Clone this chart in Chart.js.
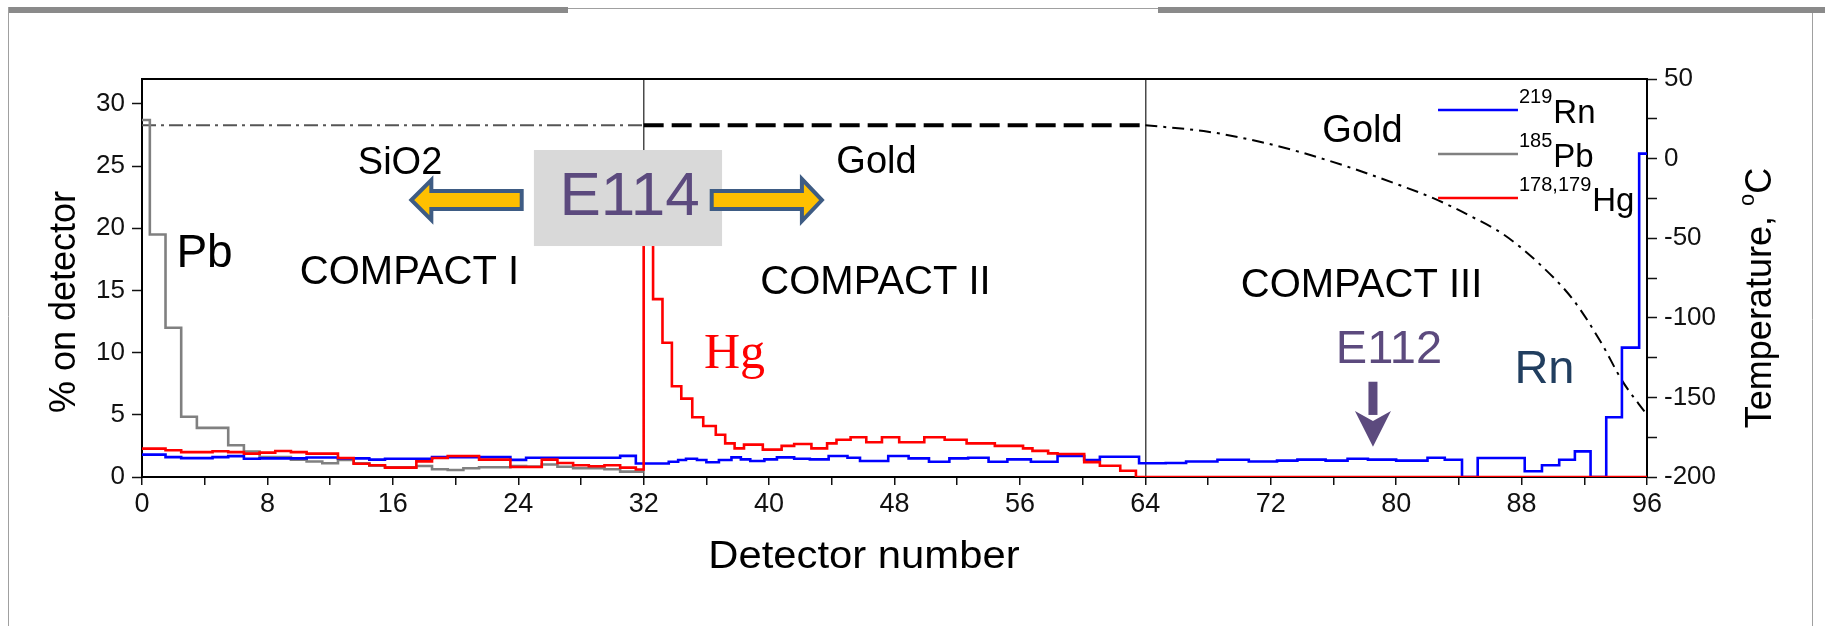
<!DOCTYPE html>
<html>
<head>
<meta charset="utf-8">
<script src="https://cdn.jsdelivr.net/npm/chart.js@4.4.0/dist/chart.umd.min.js"></script>
<style>
    html, body { margin: 0; padding: 0; background: #fff; }
    #wrap { position: relative; width: 1825px; height: 626px; }
</style>
</head>
<body>
<div id="wrap"><canvas id="chart"></canvas></div>
<script>
// Each histogram: detector number where a step starts, and % on detector for that step
var pbEdges = [0, 0.5, 1.5, 2.5, 3.5, 5.5, 6.5, 7.5, 9.5, 10.5, 11.5, 12.5, 13.5, 14.5, 15.5,
    17.5, 18.5, 19.5, 20.5, 21.5, 23.5, 24.5, 25.5, 26.5, 27.5, 29.5, 30.5];
var pbShare = [28.7, 19.5, 12.0, 4.85, 3.95, 2.55, 2.05, 1.6, 1.4, 1.25, 1.1, 1.37, 1.1, 0.9, 0.78,
    0.88, 0.62, 0.56, 0.7, 0.78, 0.88, 0.85, 1.0, 0.83, 0.7, 0.62, 0.43];

var rnEdges = [0, 1.5, 2.5, 4.5, 5.5, 6.5, 7.5, 10.5, 12.5, 14.5, 15.5, 18.5, 23.5, 24.5, 30.5, 31.5,
    33.6, 34.2, 34.7, 35.4, 36.0, 36.8, 37.6, 38.2, 38.8, 39.7, 40.5, 41.6, 42.6, 43.8, 45.0, 45.8,
    47.6, 48.9, 50.2, 51.5, 52.7, 54.0, 55.2, 56.7, 58.4, 60.1, 61.1, 63.6,
    64, 65.3, 66.6, 68.6, 70.6, 72.4, 73.7, 75.5, 76.9, 78.2, 80.0, 82.0, 83.1, 84.2, 85.2,
    88.2, 89.3, 90.4, 91.4, 92.4, 93.4, 94.4, 95.5];
var rnShare = [1.8, 1.6, 1.52, 1.6, 1.68, 1.47, 1.5, 1.57, 1.5, 1.4, 1.47, 1.6, 1.38, 1.55, 1.7, 1.08,
    1.23, 1.37, 1.47, 1.37, 1.18, 1.37, 1.58, 1.42, 1.29, 1.42, 1.58, 1.47, 1.42, 1.69, 1.55, 1.29,
    1.69, 1.5, 1.23, 1.5, 1.55, 1.23, 1.42, 1.23, 1.69, 1.37, 1.63, 1.1,
    1.1, 1.13, 1.25, 1.39, 1.25, 1.32, 1.4, 1.32, 1.47, 1.4, 1.32, 1.55, 1.39, 0, 1.53,
    0.46, 0.94, 1.39, 2.06, 0, 4.8, 10.4, 26];

var hgEdges = [0, 1.5, 2.5, 4.5, 5.5, 6.5, 7.5, 8.5, 9.5, 10.5, 12.5, 13.5, 14.5, 15.5, 17.5,
    18.5, 19.5, 21.5, 23.5, 25.5, 26.5, 27.5, 28.5, 29.5, 30.5, 31.5,
    32, 32.6, 33.2, 33.8, 34.4, 35.1, 35.8, 36.6, 37.2, 37.8, 38.4, 39.6, 40.8, 41.6, 42.7,
    43.7, 44.3, 45.2, 46.2, 47.2, 48.3, 49.9, 51.2, 52.6, 54.4, 56.2, 56.8, 57.8, 58.4,
    60.1, 61.1, 62.4, 63.4];
var hgShare = [2.28, 2.15, 2.0, 2.07, 2.0, 1.88, 1.96, 2.09, 2.0, 1.88, 1.53, 1.07, 0.94, 0.75, 1.26,
    1.53, 1.69, 1.4, 0.8, 1.4, 1.13, 0.94, 0.86, 0.95, 0.75, 0.6,
    22, 14.3, 10.8, 7.3, 6.3, 4.8, 4.1, 3.4, 2.7, 2.3, 2.6, 2.2, 2.5, 2.65, 2.3,
    2.7, 3.0, 3.2, 2.8, 3.2, 2.8, 3.2, 3.0, 2.7, 2.5, 2.3, 2.1, 1.9, 1.85,
    1.2, 0.9, 0.5, 0];

// column temperature profile (right axis)
var tempDetectors = [0, 32, 64, 68.0, 71.3, 73.8, 76.9, 80.2, 82.4, 84.6, 86.9, 89.1, 91.3, 93.1, 94.4, 96];
var tempCelsius = [21, 21, 21, 16.9, 10.6, 4.3, -5.1, -16.6, -25, -35.4, -48, -65.8, -88.8, -116, -139.3, -161];

var legendItems = [
    {sup: '219', name: 'Rn', color: 'rgb(0, 0, 255)'},
    {sup: '185', name: 'Pb', color: 'rgb(128, 128, 128)'},
    {sup: '178,179', name: 'Hg', color: 'rgb(255, 0, 0)'}
];

var SANS = "'Liberation Sans', Arial, sans-serif";
var purple = '#5c4a7e';

// text notes placed in axis units (detector, %)
var notes = [
    {text: 'SiO2', d: 16.46, v: 25.2, size: 38},
    {text: 'Pb', d: 3.99, v: 17.9, size: 46},
    {text: 'COMPACT I', d: 17.06, v: 16.4, size: 40},
    {text: 'COMPACT II', d: 46.79, v: 15.64, size: 40},
    {text: 'COMPACT III', d: 77.79, v: 15.32, size: 40},
    {text: 'Gold', d: 46.85, v: 25.29, size: 38},
    {text: 'Gold', d: 77.85, v: 27.74, size: 38},
    {text: 'Hg', d: 37.79, v: 9.81, size: 50, color: '#ff0000', family: "'Liberation Serif', 'Times New Roman', serif"},
    {text: 'E112', d: 79.54, v: 10.17, size: 47, color: purple},
    {text: 'Rn', d: 89.46, v: 8.56, size: 47, color: '#213e5f'}
];

function stepPoints(edges, values, lastDetector) {
    var points = edges.map(function (x, i) {
        return {x: x, y: values[i]};
    });
    points.push({x: lastDetector, y: values[values.length - 1]});
    return points;
}

function curvePoints(xs, ys) {
    return xs.map(function (x, i) {
        return {x: x, y: ys[i]};
    });
}

function blockArrow(ctx, tailX, tipX, cy, bodyHalf, headHalf, headLen) {
    var dir = tipX > tailX ? 1 : -1;
    var neck = tipX - dir * headLen;
    ctx.beginPath();
    ctx.moveTo(tailX, cy - bodyHalf);
    ctx.lineTo(neck, cy - bodyHalf);
    ctx.lineTo(neck, cy - headHalf);
    ctx.lineTo(tipX, cy);
    ctx.lineTo(neck, cy + headHalf);
    ctx.lineTo(neck, cy + bodyHalf);
    ctx.lineTo(tailX, cy + bodyHalf);
    ctx.closePath();
    ctx.fillStyle = '#ffc000';
    ctx.fill();
    ctx.strokeStyle = '#3e5c84';
    ctx.lineWidth = 4;
    ctx.lineJoin = 'miter';
    ctx.stroke();
}

var overlay = {
    id: 'overlay',
    beforeDraw: function (chart) {
        var ctx = chart.ctx;
        ctx.save();
        ctx.fillStyle = '#fff';
        ctx.fillRect(0, 0, chart.width, chart.height);
        // slide frame
        ctx.fillStyle = '#8a8a8a';
        ctx.fillRect(8, 7, 560, 6);
        ctx.fillRect(1158, 7, 667, 6);
        ctx.strokeStyle = '#a0a0a0';
        ctx.lineWidth = 1;
        ctx.beginPath();
        ctx.moveTo(568, 8.5);
        ctx.lineTo(1158, 8.5);
        ctx.moveTo(8.5, 7);
        ctx.lineTo(8.5, 626);
        ctx.moveTo(1812.5, 13);
        ctx.lineTo(1812.5, 626);
        ctx.stroke();
        ctx.restore();
    },
    afterDatasetsDraw: function (chart) {
        var ctx = chart.ctx;
        var area = chart.chartArea;
        var xs = chart.scales.x;
        var ys = chart.scales.y;
        var px = function (d) { return xs.getPixelForValue(d); };
        var py = function (v) { return ys.getPixelForValue(v); };

        ctx.save();

        // top frame of the plot
        ctx.strokeStyle = '#000';
        ctx.lineWidth = 2;
        ctx.beginPath();
        ctx.moveTo(area.left, area.top);
        ctx.lineTo(area.right, area.top);
        ctx.stroke();

        // E114 label box with arrows
        ctx.fillStyle = '#d9d9d9';
        ctx.fillRect(px(25.0), py(26.29), px(37.0) - px(25.0), py(18.57) - py(26.29));
        ctx.fillStyle = purple;
        ctx.font = '62px ' + SANS;
        ctx.textAlign = 'center';
        ctx.textBaseline = 'middle';
        ctx.fillText('E114', px(31.1), py(22.47));
        blockArrow(ctx, px(24.22), px(17.18), py(22.27), 9, 20, 20);
        blockArrow(ctx, px(36.34), px(43.37), py(22.27), 9, 21, 20);

        // text notes
        notes.forEach(function (n) {
            ctx.fillStyle = n.color || '#000';
            ctx.font = n.size + 'px ' + (n.family || SANS);
            ctx.fillText(n.text, px(n.d), py(n.v));
        });

        // E112 down arrow
        var ax = px(78.52);
        ctx.fillStyle = purple;
        ctx.fillRect(ax - 4.5, py(7.66), 9, py(5.15) - py(7.66) + 2);
        ctx.beginPath();
        ctx.moveTo(ax - 18, py(5.15) - 2);
        ctx.lineTo(ax, py(5.15) + 8);
        ctx.lineTo(ax + 18, py(5.15) - 2);
        ctx.lineTo(ax, py(2.44));
        ctx.closePath();
        ctx.fill();

        // legend
        var rows = [29.51, 25.97, 22.43];
        legendItems.forEach(function (item, i) {
            var ry = py(rows[i]);
            var x0 = px(82.67);
            var x1 = px(87.77);
            ctx.strokeStyle = item.color;
            ctx.lineWidth = 2.5;
            ctx.beginPath();
            ctx.moveTo(x0, ry);
            ctx.lineTo(x1, ry);
            ctx.stroke();
            ctx.fillStyle = '#000';
            ctx.textAlign = 'left';
            ctx.textBaseline = 'alphabetic';
            ctx.font = '20px ' + SANS;
            ctx.fillText(item.sup, x1 + 1, ry - 7);
            var supWidth = ctx.measureText(item.sup).width;
            ctx.font = '33px ' + SANS;
            ctx.fillText(item.name, x1 + 2 + supWidth, ry + 13);
        });

        // axis titles
        ctx.fillStyle = '#000';
        ctx.textAlign = 'center';
        ctx.textBaseline = 'middle';
        ctx.save();
        ctx.translate(px(46.05), area.bottom + 81);
        ctx.scale(1.1, 1);
        ctx.font = '38px ' + SANS;
        ctx.fillText('Detector number', 0, 0);
        ctx.restore();

        ctx.save();
        ctx.translate(area.left - 80, area.top + 223);
        ctx.rotate(-Math.PI / 2);
        ctx.font = '36px ' + SANS;
        ctx.textBaseline = 'alphabetic';
        ctx.fillText('% on detector', 0, 13);
        ctx.restore();

        ctx.save();
        ctx.translate(area.right + 111, area.top + 219);
        ctx.rotate(-Math.PI / 2);
        ctx.textAlign = 'left';
        ctx.textBaseline = 'alphabetic';
        ctx.font = '36px ' + SANS;
        var w1 = ctx.measureText('Temperature, ').width;
        var w3 = ctx.measureText('C').width;
        ctx.font = '22px ' + SANS;
        var w2 = ctx.measureText('o').width;
        var start = -(w1 + w2 + w3) / 2;
        ctx.font = '36px ' + SANS;
        ctx.fillText('Temperature, ', start, 13);
        ctx.font = '22px ' + SANS;
        ctx.fillText('o', start + w1, -4);
        ctx.font = '36px ' + SANS;
        ctx.fillText('C', start + w1 + w2, 13);
        ctx.restore();

        ctx.restore();
    }
};

var tickFont = {family: SANS, size: 26};

new Chart(document.getElementById('chart'), {
    type: 'line',
    data: {
        datasets: [
            {
                label: '178,179Hg',
                data: stepPoints(hgEdges, hgShare, 96),
                borderColor: 'rgb(255, 0, 0)',
                stepped: true,
                yAxisID: 'y'
            },
            {
                label: '219Rn',
                data: stepPoints(rnEdges, rnShare, 96),
                borderColor: 'rgb(0, 0, 255)',
                stepped: true,
                yAxisID: 'y'
            },
            {
                label: '185Pb',
                data: stepPoints(pbEdges, pbShare, 32),
                borderColor: 'rgb(128, 128, 128)',
                stepped: true,
                yAxisID: 'y'
            },
            {
                label: 'SiO2 temperature',
                data: curvePoints(tempDetectors.slice(0, 2), tempCelsius.slice(0, 2)),
                borderColor: '#555',
                borderWidth: 2,
                borderDash: [14, 5, 3, 5],
                yAxisID: 'y2'
            },
            {
                label: 'Gold temperature',
                data: curvePoints(tempDetectors.slice(1, 3), tempCelsius.slice(1, 3)),
                borderColor: '#000',
                borderWidth: 4,
                borderDash: [20, 8],
                yAxisID: 'y2'
            },
            {
                label: 'Gold gradient',
                data: curvePoints(tempDetectors.slice(2), tempCelsius.slice(2)),
                borderColor: '#000',
                borderWidth: 2,
                borderDash: [12, 6, 3, 6],
                cubicInterpolationMode: 'monotone',
                yAxisID: 'y2'
            }
        ]
    },
    options: {
        responsive: true,
        maintainAspectRatio: false,
        animation: false,
        layout: {padding: {left: 0, top: 79, right: 78, bottom: 49}},
        elements: {
            point: {radius: 0},
            line: {borderWidth: 2.6, tension: 0, fill: false}
        },
        plugins: {
            legend: {display: false},
            tooltip: {enabled: false}
        },
        scales: {
            x: {
                type: 'linear',
                min: 0,
                max: 96,
                afterFit: function (scale) { scale.height = 100; },
                ticks: {
                    stepSize: 4,
                    autoSkip: false,
                    maxRotation: 0,
                    padding: 3,
                    color: '#111',
                    font: {family: SANS, size: 27},
                    callback: function (value) { return value % 8 === 0 ? value : ''; }
                },
                grid: {
                    color: function (c) {
                        return c.tick && (c.tick.value === 32 || c.tick.value === 64) ? '#4a4a4a' : 'rgba(0,0,0,0)';
                    },
                    lineWidth: 1.5,
                    tickColor: '#111',
                    tickLength: 8,
                    tickWidth: 1.5
                },
                border: {color: '#000', width: 2}
            },
            y: {
                position: 'left',
                min: 0,
                max: 32,
                afterFit: function (scale) { scale.width = 142; },
                ticks: {
                    stepSize: 2.5,
                    includeBounds: false,
                    padding: 7,
                    color: '#111',
                    font: tickFont,
                    callback: function (value) { return value % 5 === 0 ? value : ''; }
                },
                grid: {drawOnChartArea: false, tickColor: '#111', tickLength: 10, tickWidth: 1.5},
                border: {color: '#000', width: 2}
            },
            y2: {
                position: 'right',
                min: -200,
                max: 50,
                afterFit: function (scale) { scale.width = 100; },
                ticks: {
                    stepSize: 25,
                    padding: 7,
                    color: '#111',
                    font: tickFont,
                    callback: function (value) { return value % 50 === 0 ? value : ''; }
                },
                grid: {drawOnChartArea: false, tickColor: '#111', tickLength: 10, tickWidth: 1.5},
                border: {color: '#000', width: 2}
            }
        }
    },
    plugins: [overlay]
});
</script>
</body>
</html>
